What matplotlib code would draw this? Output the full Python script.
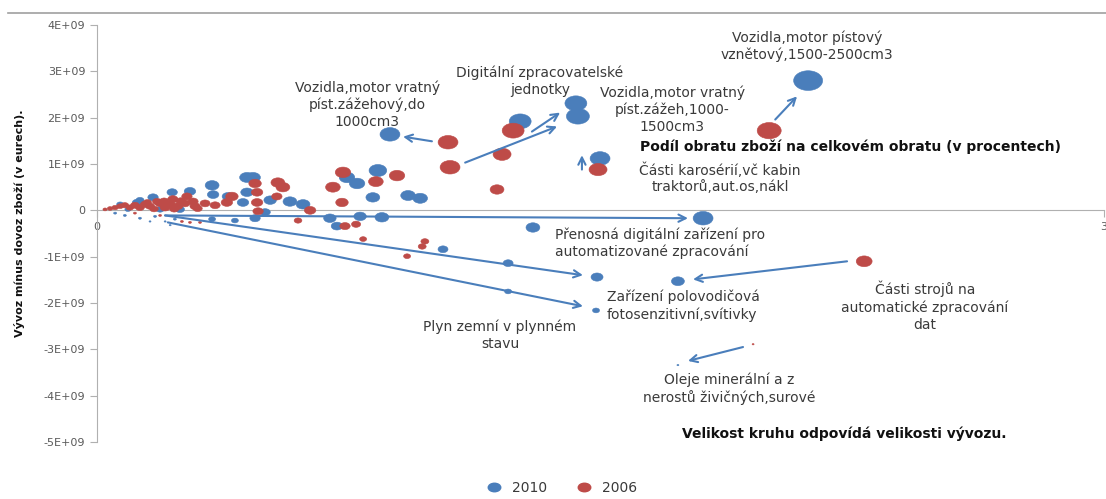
"""
Bubble chart: trade balance vs. share of turnover, bubble size = export.
"""
import numpy as np
import matplotlib
matplotlib.use("Agg")
import matplotlib.pyplot as plt
from matplotlib.lines import Line2D
from matplotlib.path import Path
from matplotlib.transforms import Affine2D

OUTPUT = "out.png"
BLUE = "#4a7ebb"
RED = "#be4b48"
TEXT = "#3a3a3a"
GRAY = "#b0b0b0"

# 2010: share of turnover [%], export minus import [1e9 EUR], export [1e9 EUR]
X_2010 = [2.119, 1.427, 1.433, 1.261, 0.873, 1.499, 1.806, 1.299, 1.490, 1.487,
          1.731, 1.225, 1.225, 1.731, 1.031,
          0.447, 0.465, 0.343, 0.837, 0.745, 0.775, 0.822, 0.927, 0.963, 0.575,
          0.614, 0.516, 0.447, 0.277, 0.346, 0.694, 0.715, 0.784, 0.849, 0.471,
          0.501, 0.343, 0.411, 0.435, 0.390, 0.224, 0.167, 0.119,
          0.069, 0.128, 0.092, 0.188, 0.247,
          0.083, 0.128, 0.173, 0.203, 0.232, 0.158, 0.218, 0.054]
Y_2010 = [2.80, 2.31, 2.03, 1.92, 1.64, 1.12, -0.17, -0.37, -1.44, -2.16,
          -1.53, -1.14, -1.75, -3.34, -0.84,
          0.71, 0.71, 0.54, 0.86, 0.71, 0.58, 0.28, 0.32, 0.26, 0.19,
          0.13, 0.22, 0.39, 0.41, 0.34, -0.17, -0.34, -0.13, -0.15, -0.17,
          -0.04, -0.19, -0.22, 0.17, 0.30, 0.39, 0.28, 0.17,
          0.13, 0.22, 0.02, 0.02, 0.02,
          -0.11, -0.17, -0.13, -0.24, -0.19, -0.24, -0.32, -0.06]
EXPORT_2010 = [7.0, 4.0, 4.4, 4.0, 3.3, 3.3, 3.3, 1.6, 1.2, 0.41,
               1.4, 0.83, 0.41, 0.033, 0.83,
               1.8, 1.8, 1.6, 2.6, 2.0, 2.0, 1.6, 1.8, 1.8, 1.6,
               1.6, 1.3, 1.3, 1.1, 1.1, 1.3, 1.1, 1.3, 1.6, 0.9,
               0.9, 0.4, 0.4, 1.1, 1.1, 0.9, 0.9, 0.7,
               0.4, 0.55, 0.3, 0.55, 0.7,
               0.075, 0.075, 0.075, 0.033, 0.075, 0.033, 0.033, 0.075]

# 2006
X_2006 = [2.003, 1.240, 1.046, 1.052, 1.207, 1.192, 1.493, 2.286, 1.955, 0.977,
          0.969, 0.924, 0.793,
          0.733, 0.894, 0.831, 0.703, 0.730, 0.539, 0.554, 0.471, 0.477, 0.477,
          0.402, 0.387, 0.536, 0.635, 0.480, 0.599, 0.739, 0.772, 0.253, 0.277,
          0.307, 0.226, 0.286, 0.268, 0.179,
          0.024, 0.039, 0.054, 0.069, 0.083, 0.098, 0.113, 0.128, 0.143, 0.158,
          0.188, 0.203, 0.218, 0.241, 0.262, 0.292, 0.322, 0.352,
          0.150, 0.200, 0.250, 0.300, 0.170, 0.230,
          0.113, 0.188]
Y_2006 = [1.72, 1.72, 1.47, 0.93, 1.21, 0.45, 0.88, -1.10, -2.89, -0.67,
          -0.78, -0.99, -0.62,
          0.82, 0.75, 0.62, 0.50, 0.17, 0.60, 0.50, 0.58, 0.39, 0.17,
          0.30, 0.17, 0.30, 0.00, -0.02, -0.22, -0.34, -0.30, -0.24, -0.26,
          -0.26, 0.24, 0.19, 0.30, 0.19,
          0.02, 0.04, 0.06, 0.09, 0.11, 0.06, 0.11, 0.06, 0.13, 0.09,
          0.15, 0.06, 0.13, 0.09, 0.15, 0.09, 0.15, 0.11,
          0.17, 0.20, 0.20, 0.04, 0.03, 0.03,
          -0.06, -0.11]
EXPORT_2006 = [4.8, 4.0, 3.3, 3.3, 2.7, 1.6, 2.7, 2.1, 0.033, 0.53,
               0.53, 0.41, 0.41,
               2.0, 2.0, 1.8, 1.8, 1.3, 1.6, 1.6, 1.3, 1.1, 1.1,
               1.3, 1.1, 0.9, 1.1, 0.9, 0.5, 0.9, 0.7, 0.075, 0.075,
               0.075, 0.9, 0.9, 0.9, 0.7,
               0.15, 0.25, 0.35, 0.4, 0.5, 0.5, 0.65, 0.65, 0.7, 0.7,
               0.85, 0.85, 0.85, 0.85, 0.85, 0.85, 0.85, 0.85,
               0.6, 0.7, 0.8, 0.7, 0.6, 0.7,
               0.075, 0.075]

Y_TICKS = [4, 3, 2, 1, 0, -1, -2, -3, -4, -5]
Y_TICK_LABELS = ["4E+09", "3E+09", "2E+09", "1E+09", "0",
                 "-1E+09", "-2E+09", "-3E+09", "-4E+09", "-5E+09"]

# annotation arrows (start -> end, data coords)
ARROWS = [
    ((2.021, 1.96), (2.086, 2.46)),
    ((1.296, 1.70), (1.380, 2.11)),
    ((1.097, 1.03), (1.371, 1.81)),
    ((0.998, 1.49), (0.912, 1.59)),
    ((1.445, 0.88), (1.445, 1.19)),
    ((0.203, -0.11), (1.761, -0.17)),
    ((0.203, -0.11), (1.448, -1.40)),
    ((0.211, -0.26), (1.448, -2.07)),
    ((2.235, -1.10), (1.776, -1.49)),
    ((1.925, -2.95), (1.761, -3.25)),
]

# labels: text, x, y, horizontal alignment, bold
LABELS = [
    ("Vozidla,motor pístový\nvznětový,1500-2500cm3", 2.116, 3.545, "center", False),
    ("Digitální zpracovatelské\njednotky", 1.320, 2.79, "center", False),
    ("Vozidla,motor vratný\npíst.zážehový,do\n1000cm3", 0.805, 2.28, "center", False),
    ("Vozidla,motor vratný\npíst.zážeh,1000-\n1500cm3", 1.714, 2.18, "center", False),
    ("Podíl obratu zboží na celkovém obratu (v procentech)", 1.618, 1.38, "left", True),
    ("Části karosérií,vč kabin\ntraktorů,aut.os,nákl", 1.857, 0.69, "center", False),
    ("Přenosná digitální zařízení pro\nautomatizované zpracování", 1.365, -0.71, "left", False),
    ("Zařízení polovodičová\nfotosenzitivní,svítivky", 1.520, -2.06, "left", False),
    ("Části strojů na\nautomatické zpracování\ndat", 2.467, -2.07, "center", False),
    ("Plyn zemní v plynném\nstavu", 1.201, -2.70, "center", False),
    ("Oleje minerální a z\nnerostů živičných,surové", 1.883, -3.86, "center", False),
    ("Velikost kruhu odpovídá velikosti vývozu.", 2.226, -4.83, "center", True),
]

SIZE_SCALE = 62.3  # marker area (pt^2) per 1e9 EUR of export
ELLIPSE = Path.unit_circle().transformed(Affine2D().scale(1.0, 0.68))


def bubbles(ax, x, y, export, color):
    x, y, export = map(np.asarray, (x, y, export))
    order = np.argsort(-export)
    ax.scatter(x[order], y[order], s=SIZE_SCALE * export[order], marker=ELLIPSE,
               color=color, edgecolors=color, linewidths=0.4, zorder=3)


if __name__ == "__main__":
    fig = plt.figure(figsize=(11.06, 4.99), dpi=100)
    ax = fig.add_axes([0.0877, 0.1142, 0.9103, 0.8357])

    bubbles(ax, X_2010, Y_2010, EXPORT_2010, BLUE)
    bubbles(ax, X_2006, Y_2006, EXPORT_2006, RED)

    for start, end in ARROWS:
        ax.annotate("", xy=end, xytext=start, zorder=4,
                    arrowprops=dict(arrowstyle="->", color=BLUE, lw=1.5,
                                    mutation_scale=13, shrinkA=0, shrinkB=0))

    for text, x, y, ha, bold in LABELS:
        ax.text(x, y, text, ha=ha, va="center", fontsize=10,
                fontweight="bold" if bold else "normal",
                color="#111111" if bold else TEXT, linespacing=1.25,
                clip_on=False, zorder=5)

    ax.set_xlim(0, 3)
    ax.set_ylim(-5, 4)
    for side in ("top", "right"):
        ax.spines[side].set_visible(False)
    ax.spines["bottom"].set_position(("data", 0))
    ax.spines["bottom"].set_color(GRAY)
    ax.spines["left"].set_color(GRAY)
    ax.set_xticks([0, 3])
    ax.set_xticklabels(["0", "3"])
    ax.set_yticks(Y_TICKS)
    ax.set_yticklabels(Y_TICK_LABELS)
    ax.tick_params(axis="both", colors=GRAY, labelcolor="#595959",
                   labelsize=8, length=5)

    ax.set_ylabel("Vývoz mínus dovoz zboží (v eurech).", fontsize=8,
                  fontweight="bold", color="#111111")
    ax.yaxis.set_label_coords(-0.072, 0.525)

    # chart border line at the top
    fig.add_artist(Line2D([0.007, 1.0], [0.974, 0.974], color="#a0a0a0",
                          lw=1.2, transform=fig.transFigure))

    handles = [Line2D([], [], marker=ELLIPSE, color=c, linestyle="none",
                      markersize=9) for c in (BLUE, RED)]
    fig.legend(handles, ["2010", "2006"], loc="center",
               bbox_to_anchor=(0.505, 0.022), ncol=2, frameon=False,
               fontsize=10, handletextpad=0.3, columnspacing=1.6,
               labelcolor=TEXT)

    fig.savefig(OUTPUT, dpi=100)
